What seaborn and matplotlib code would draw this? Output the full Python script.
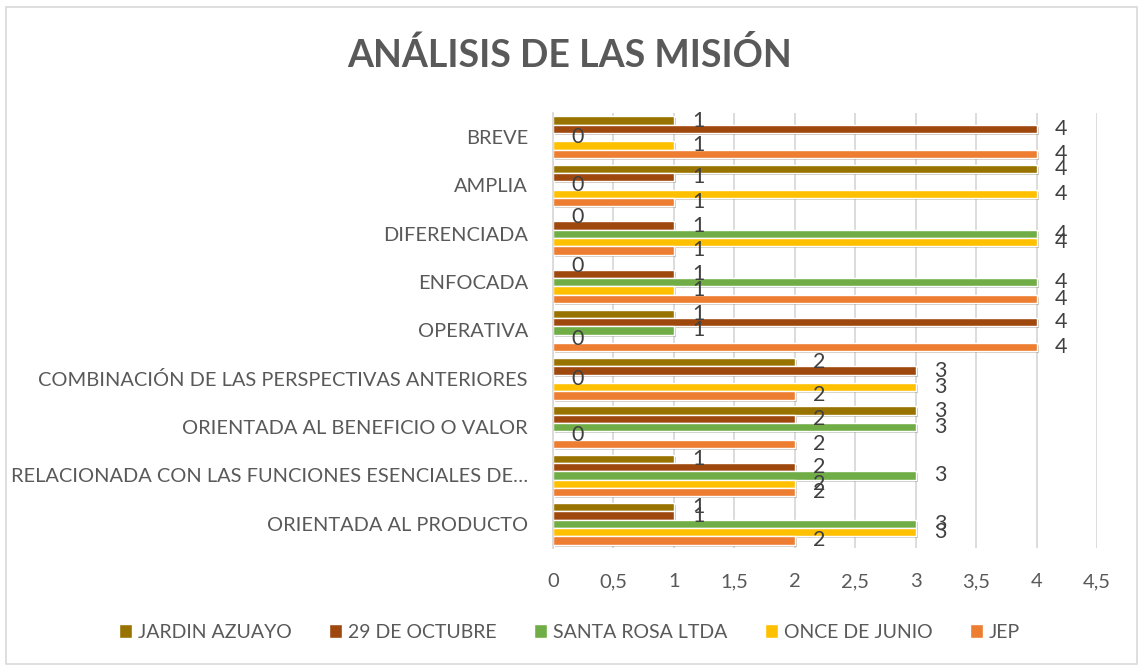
import matplotlib
matplotlib.use('Agg')
import matplotlib.pyplot as plt
import matplotlib.patheffects as pe
from matplotlib.patches import Rectangle
import pandas as pd
import seaborn as sns

# Categories (top to bottom) and series values
categories = ['BREVE', 'AMPLIA', 'DIFERENCIADA', 'ENFOCADA', 'OPERATIVA',
              'COMBINACIÓN DE LAS PERSPECTIVAS ANTERIORES',
              'ORIENTADA AL BENEFICIO O VALOR',
              'RELACIONADA CON LAS FUNCIONES ESENCIALES DE…',
              'ORIENTADA AL PRODUCTO']
series = ['JARDIN AZUAYO', '29 DE OCTUBRE', 'SANTA ROSA LTDA', 'ONCE DE JUNIO', 'JEP']
jardin_azuayo = [1, 4, 0, 0, 1, 2, 3, 1, 1]
octubre_29 = [4, 1, 1, 1, 4, 3, 2, 2, 1]
santa_rosa = [0, 0, 4, 4, 1, 0, 3, 3, 3]
once_junio = [1, 4, 4, 1, 0, 3, 0, 2, 3]
jep = [4, 1, 1, 4, 4, 2, 2, 2, 2]
colors = ['#997300', '#9E480E', '#70AD47', '#FFC000', '#ED7D31']

values = [jardin_azuayo, octubre_29, santa_rosa, once_junio, jep]
rows = []
for s, vals in zip(series, values):
    for c, v in zip(categories, vals):
        rows.append({'Categoria': c, 'Serie': s, 'Valor': v})
df = pd.DataFrame(rows)

sns.set_style('white')
plt.rcParams['font.family'] = ['Lato', 'DejaVu Sans']
text_color = '#595959'

fig = plt.figure(figsize=(11.39, 6.65), dpi=100)
fig.patches.append(Rectangle((6 / 1139, 1 / 665), 1131 / 1139, 657 / 665,
                             transform=fig.transFigure, fill=False,
                             edgecolor='#D9D9D9', linewidth=1.2))
ax = fig.add_axes([553 / 1139, 1 - 548 / 665, 544 / 1139, 435 / 665])

sns.barplot(data=df, y='Categoria', x='Valor', hue='Serie', order=categories,
            hue_order=series, palette=colors, orient='h', width=0.86,
            saturation=1, ax=ax)

for bars in ax.containers:
    for b in bars:
        b.set_path_effects([pe.SimplePatchShadow(offset=(1.5, -1.5), alpha=0.25),
                            pe.Normal()])
    ax.bar_label(bars, fmt='%g', padding=13, fontsize=15.5, color='#404040')

ax.set_xlim(0, 4.5)
ax.set_xticks([0, 0.5, 1, 1.5, 2, 2.5, 3, 3.5, 4, 4.5])
ax.set_xticklabels(['0', '0,5', '1', '1,5', '2', '2,5', '3', '3,5', '4', '4,5'])
ax.grid(axis='x', color='#D9D9D9', linewidth=1.3)
ax.set_axisbelow(True)
for side in ['top', 'right', 'bottom']:
    ax.spines[side].set_visible(False)
ax.spines['left'].set_color('#D9D9D9')
ax.spines['left'].set_linewidth(1.3)
ax.tick_params(axis='y', length=0, pad=18, labelsize=14.4, labelcolor=text_color)
ax.tick_params(axis='x', length=0, pad=18, labelsize=14.5, labelcolor=text_color)
ax.set_xlabel('')
ax.set_ylabel('')

fig.text(0.5, 1 - 55 / 665, 'ANÁLISIS DE LAS MISIÓN', ha='center', va='center',
         fontsize=27, fontweight='bold', color=text_color)

sns.move_legend(ax, 'center', bbox_to_anchor=(0.5, 1 - 632 / 665),
                bbox_transform=fig.transFigure, ncol=5, frameon=False,
                title=None, fontsize=14, handlelength=0.7, handleheight=0.7,
                handletextpad=0.3, columnspacing=1.9, labelcolor=text_color)

fig.savefig('out.png', dpi=100)
